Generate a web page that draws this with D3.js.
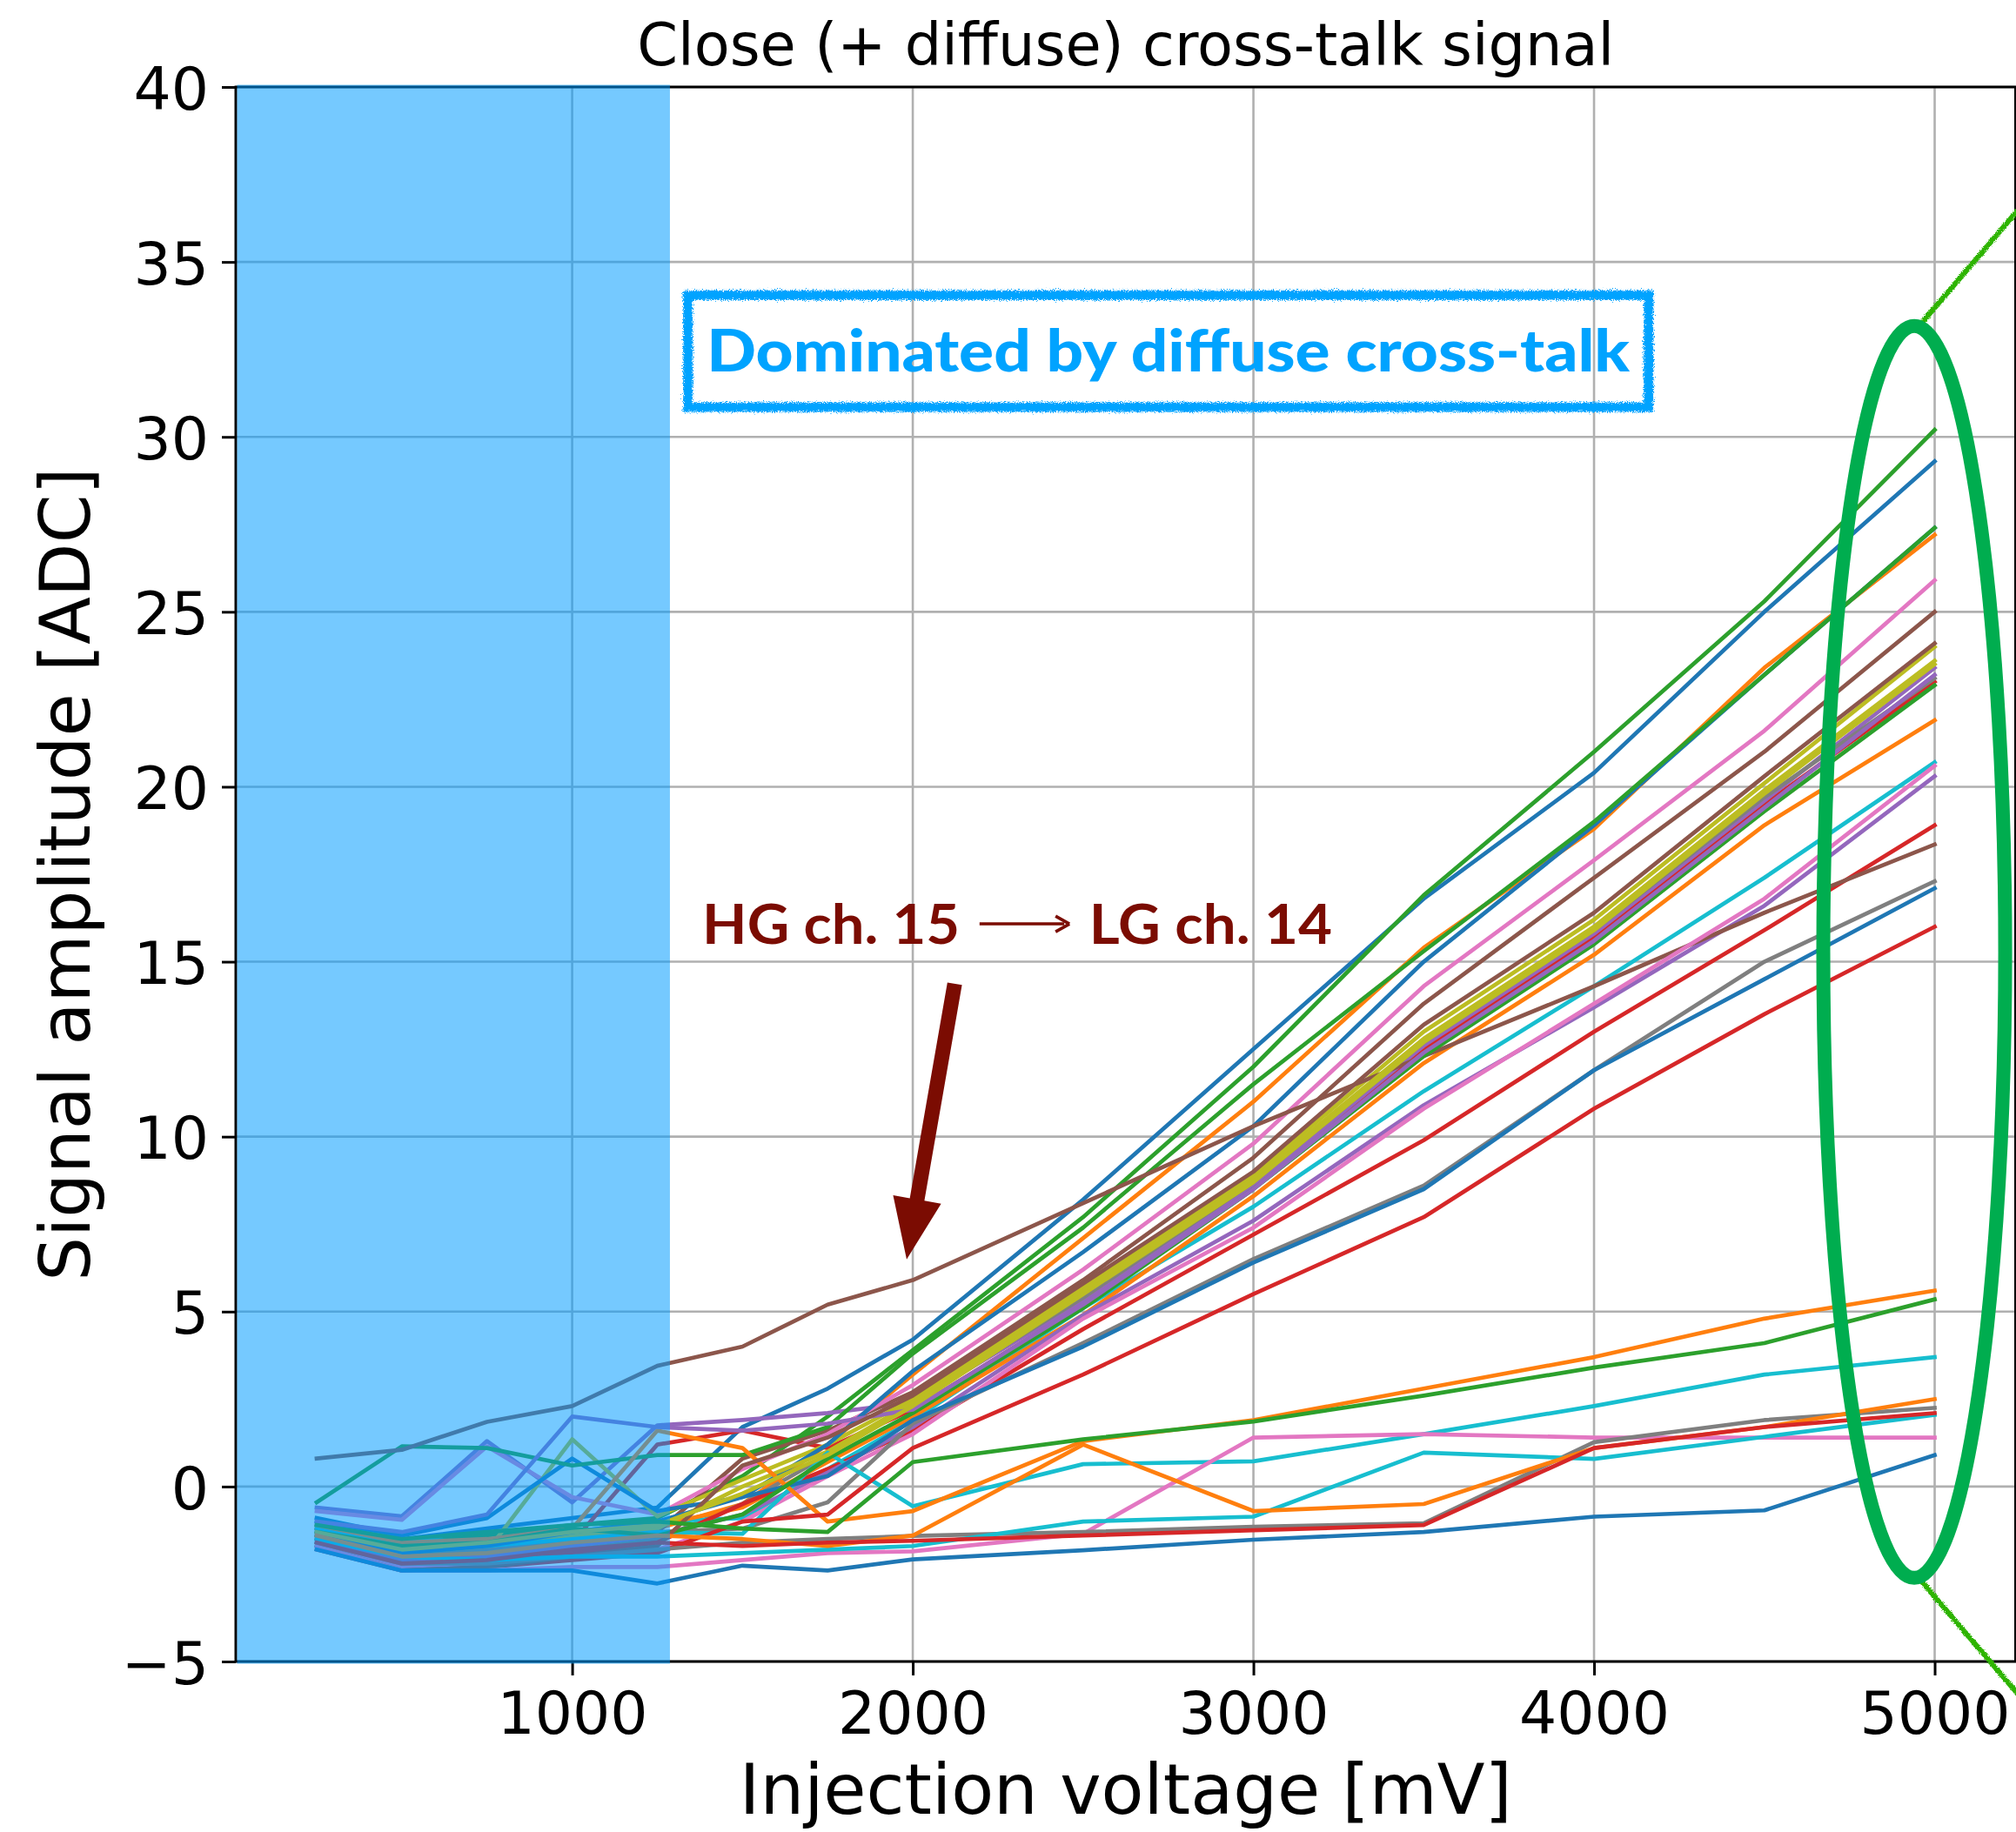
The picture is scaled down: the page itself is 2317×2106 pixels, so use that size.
<!DOCTYPE html>
<html>
<head>
<meta charset="utf-8">
<script src="https://cdn.jsdelivr.net/npm/d3@7"></script>
<style>
  html, body { margin: 0; padding: 0; background: #ffffff; }
  svg { display: block; }
</style>
</head>
<body>
<svg id="chart" width="2317" height="2106"></svg>
<script>
// Injection voltages (mV) at which every channel was measured
const voltages = [250, 500, 750, 1000, 1250, 1500, 1750, 2000, 2500, 3000, 3500, 4000, 4500, 5000];

// Cross-talk amplitude [ADC] per receiving channel, one row per channel (colour cycle order)
const channelSignals = [
  [-1.0, -1.5, -1.2, -0.9, -0.6,  1.7,  2.8,  4.2,  8.2, 12.5, 16.8, 20.4, 25.0, 29.3],
  [-1.3, -1.9, -1.7, -1.5, -1.2, -0.5,  1.2,  3.2,  7.1, 11.0, 15.4, 18.8, 23.4, 27.2],
  [-1.2, -1.6, -1.4, -1.1, -0.9,  0.3,  2.0,  3.9,  7.7, 12.0, 16.9, 21.0, 25.3, 30.2],
  [-1.5, -2.0, -1.9, -1.6,  1.2,  1.6,  1.1,  2.2,  5.2,  8.6, 12.5, 15.7, 19.5, 23.0],
  [-0.6, -0.85, 1.3, -0.45, 1.75, 1.9,  2.1,  2.4,  5.3,  8.6, 12.6, 15.8, 19.6, 23.4],
  [-1.4, -2.0, -1.9, -1.5, -1.3,  0.8,  1.6,  2.7,  5.9,  9.4, 13.8, 17.4, 21.0, 25.0],
  [-0.7, -0.95, 1.15, -0.3, -0.8, 0.5,  1.5,  2.9,  6.2,  9.8, 14.3, 17.9, 21.6, 25.9],
  [-1.6, -2.2, -2.1, -1.8, -1.5, -0.5,  0.9,  2.4,  5.4,  8.7, 12.7, 15.9, 19.7, 23.1],
  [-1.4, -1.7, -1.85, 1.35, -0.85, 0.2, 1.2,  2.5,  5.7,  8.9, 13.0, 16.2, 20.1, 24.0],
  [-1.1, -1.5, -1.6, -1.3, -1.0, -0.9,  0.5,  1.9,  5.1,  8.0, 11.3, 14.3, 17.4, 20.7],
  [-0.9, -1.4, -0.9,  0.8, -0.7, -0.3,  1.2,  3.3,  6.7, 10.3, 15.0, 18.9, 23.2, 27.4],
  [-1.2, -1.8, -1.6, -1.4, -1.1, -0.6,  0.7,  2.0,  4.9,  8.3, 12.1, 15.2, 18.9, 21.9],
  [-0.45, 1.15, 1.1,  0.6,  0.9,  0.9,  1.7,  3.8,  7.4, 11.5, 15.3, 19.0, 23.2, 27.4],
  [-1.7, -2.3, -2.2, -1.9, -1.6, -0.5,  0.5,  1.6,  4.5,  7.2,  9.9, 13.0, 15.9, 18.9],
  [-1.5, -2.1, -2.0, -1.7, -1.4, -0.8,  0.4,  1.7,  4.9,  7.6, 10.9, 13.7, 16.6, 20.3],
  [ 0.8,  1.05, 1.85, 2.3,  3.45, 4.0,  5.2,  5.9,  8.1, 10.3, 12.3, 14.3, 16.4, 18.35],
  [-1.6, -2.3, -2.2, -2.0, -1.8, -1.0,  0.3,  1.5,  4.8,  7.4, 10.8, 13.8, 16.8, 20.6],
  [-1.3, -1.9, -1.8, -1.6, -1.3, -1.2, -0.45, 1.8,  4.1,  6.5,  8.6, 11.9, 15.0, 17.3],
  [-1.5, -1.9, -1.7, -1.4, -1.2,  0.0,  1.0,  2.4,  5.6,  8.8, 12.8, 16.0, 19.9, 23.6],
  [-1.2, -1.6, -1.7, -1.5, -1.3, -1.35, 0.97, -0.56, 0.64, 0.72, 1.5, 2.3,  3.2,  3.7],
  [-1.4, -1.9, -1.7, -1.3, -1.0, -0.3,  0.3,  1.9,  4.0,  6.4,  8.5, 11.9, 14.5, 17.1],
  [-1.1, -1.6, -1.5, -1.2,  1.6,  1.1, -1.0, -0.7,  1.3,  1.9,  2.8,  3.7,  4.8,  5.6],
  [-1.3, -1.7, -1.6, -1.2, -1.4, -0.8,  0.8,  2.1,  5.1,  8.5, 12.3, 15.5, 19.3, 22.9],
  [-1.8, -2.4, -2.3, -2.1, -1.9, -1.0, -0.8,  1.1,  3.2,  5.5,  7.7, 10.8, 13.5, 16.0],
  [-1.0, -1.3, -0.8,  2.0,  1.7,  1.6,  1.8,  2.2,  5.2,  8.5, 12.4, 15.6, 19.4, 23.2],
  [-1.7, -2.4, -2.3, -2.0, -1.7,  0.6,  1.4,  2.6,  5.8,  9.0, 13.2, 16.4, 20.3, 24.1],
  [-1.7, -2.4, -2.4, -2.3, -2.3, -2.1, -1.9, -1.85, -1.35, 1.4, 1.5,  1.4,  1.4,  1.4],
  [-1.6, -2.2, -2.2, -2.0, -1.8, -1.6, -1.5, -1.41, -1.3, -1.15, -1.05, 1.27, 1.9, 2.25],
  [-1.3, -1.8, -1.6, -1.3, -1.1, -0.2,  0.9,  2.3,  5.5,  8.7, 12.7, 15.9, 19.8, 23.5],
  [-1.5, -2.0, -2.1, -2.0, -2.0, -1.9, -1.8, -1.7, -1.0, -0.86, 0.97, 0.79, 1.42, 2.05],
  [-1.8, -2.4, -2.4, -2.4, -2.77, -2.26, -2.4, -2.08, -1.82, -1.52, -1.3, -0.86, -0.68, 0.9],
  [-1.4, -2.0, -1.9, -1.6, -1.4, -1.5, -1.7, -1.4,  1.2, -0.7, -0.5,  1.1,  1.7,  2.5],
  [-1.1, -1.5, -1.3, -1.1, -1.0, -1.2, -1.3,  0.7,  1.35, 1.86, 2.6,  3.4,  4.1,  5.35],
  [-1.6, -2.2, -2.1, -1.8, -1.6, -1.7, -1.6, -1.55, -1.4, -1.25, -1.1, 1.1,  1.7,  2.1]
];

// Axis ticks
const xTickValues = [1000, 2000, 3000, 4000, 5000];
const yTickValues = [-5, 0, 5, 10, 15, 20, 25, 30, 35, 40];

// Text
const titleText = "Close (+ diffuse) cross-talk signal";
const xLabelText = "Injection voltage [mV]";
const yLabelText = "Signal amplitude [ADC]";
const diffuseLabel = "Dominated by diffuse cross-talk";
const channelLabelFrom = "HG ch. 15";
const channelLabelTo = "LG ch. 14";

// ---------------------------------------------------------------------------
const W = 2317, H = 2106;
const plot = { left: 271, right: 2316.5, top: 100, bottom: 1910 };

const x = d3.scaleLinear().domain([12.5, 5237.5]).range([plot.left, plot.right]);
const y = d3.scaleLinear().domain([-5, 40]).range([plot.bottom, plot.top]);
const colors = d3.schemeCategory10;

const svg = d3.select("#chart");
const defs = svg.append("defs");

defs.append("clipPath").attr("id", "plotClip")
  .append("rect")
  .attr("x", plot.left).attr("y", plot.top)
  .attr("width", plot.right - plot.left).attr("height", plot.bottom - plot.top);

// rough, chalk-like edges for hand-drawn annotation strokes
function roughFilter(id, scale, freq, seed) {
  const f = defs.append("filter").attr("id", id)
    .attr("x", "-10%").attr("y", "-30%").attr("width", "120%").attr("height", "160%");
  f.append("feTurbulence").attr("type", "fractalNoise").attr("baseFrequency", freq)
    .attr("numOctaves", 2).attr("seed", seed).attr("result", "noise");
  f.append("feDisplacementMap").attr("in", "SourceGraphic").attr("in2", "noise")
    .attr("scale", scale).attr("xChannelSelector", "R").attr("yChannelSelector", "G");
}
roughFilter("rough", 8, 0.8, 4);
roughFilter("roughThin", 4, 0.9, 7);

// background
svg.append("rect").attr("width", W).attr("height", H).attr("fill", "#ffffff");

// grid
const grid = svg.append("g").attr("stroke", "#b0b0b0").attr("stroke-width", 2.6);
grid.selectAll("line.gx").data(xTickValues).join("line")
  .attr("x1", d => x(d)).attr("x2", d => x(d))
  .attr("y1", plot.top).attr("y2", plot.bottom);
grid.selectAll("line.gy").data(yTickValues).join("line")
  .attr("x1", plot.left).attr("x2", plot.right)
  .attr("y1", d => y(d)).attr("y2", d => y(d));

// channel curves
const line = d3.line()
  .x((d, i) => x(voltages[i]))
  .y(d => y(d));

svg.append("g").attr("clip-path", "url(#plotClip)")
  .selectAll("path").data(channelSignals).join("path")
  .attr("d", d => line(d))
  .attr("fill", "none")
  .attr("stroke", (d, i) => colors[i % colors.length])
  .attr("stroke-width", 4.7)
  .attr("stroke-linejoin", "round")
  .attr("stroke-linecap", "square");

// axes
const tickFont = "'DejaVu Sans', 'Liberation Sans', sans-serif";
const xAxis = svg.append("g").attr("transform", `translate(0,${plot.bottom})`)
  .call(d3.axisBottom(x).tickValues(xTickValues).tickSize(16).tickPadding(19).tickFormat(d3.format("d")));
const yAxis = svg.append("g").attr("transform", `translate(${plot.left},0)`)
  .call(d3.axisLeft(y).tickValues(yTickValues).tickSize(16).tickPadding(15).tickFormat(d => d < 0 ? "\u2212" + Math.abs(d) : d));
[xAxis, yAxis].forEach(a => {
  a.select(".domain").remove();
  a.selectAll(".tick line").attr("stroke", "#000").attr("stroke-width", 3);
  a.selectAll(".tick text").attr("fill", "#000")
    .style("font-family", tickFont).style("font-size", "68px");
});
yAxis.selectAll(".tick text").attr("dy", "0.37em");

// spines
svg.append("rect")
  .attr("x", plot.left).attr("y", plot.top)
  .attr("width", plot.right - plot.left).attr("height", plot.bottom - plot.top)
  .attr("fill", "none").attr("stroke", "#000").attr("stroke-width", 3);

// low-voltage region shading
const lowRegion = [12.5, 1287];
svg.append("rect")
  .attr("x", x(lowRegion[0]) + 1.5).attr("y", plot.top - 2.5)
  .attr("width", x(lowRegion[1]) - x(lowRegion[0]) - 1.5)
  .attr("height", plot.bottom - plot.top + 5)
  .attr("fill", "rgb(0,155,255)").attr("fill-opacity", 0.54);

// title and axis labels
svg.append("text").attr("x", (plot.left + plot.right) / 2).attr("y", 75)
  .attr("text-anchor", "middle").style("font-family", tickFont).style("font-size", "67px")
  .attr("fill", "#000").text(titleText);
svg.append("text").attr("x", (plot.left + plot.right) / 2).attr("y", 2085)
  .attr("text-anchor", "middle").style("font-family", tickFont).style("font-size", "80px")
  .attr("fill", "#000").text(xLabelText);
svg.append("text")
  .attr("transform", `translate(103,${(plot.top + plot.bottom) / 2}) rotate(-90)`)
  .attr("text-anchor", "middle").style("font-family", tickFont).style("font-size", "80px")
  .attr("fill", "#000").text(yLabelText);

// --- annotations ----------------------------------------------------------
const blueNote = "#00a3ff";

// framed note about the diffuse cross-talk regime
const boxMv = [1340, 4160], boxAdc = [30.85, 34.05];
svg.append("rect")
  .attr("x", x(boxMv[0])).attr("y", y(boxAdc[1]))
  .attr("width", x(boxMv[1]) - x(boxMv[0]))
  .attr("height", y(boxAdc[0]) - y(boxAdc[1]))
  .attr("fill", "none").attr("stroke", blueNote).attr("stroke-width", 11)
  .attr("filter", "url(#rough)");
svg.append("text")
  .attr("x", x(1395)).attr("y", y(31.87))
  .attr("textLength", x(4105) - x(1395)).attr("lengthAdjust", "spacingAndGlyphs")
  .style("font-family", "Lato, 'Open Sans', sans-serif").style("font-weight", 900)
  .style("font-size", "66px").attr("fill", blueNote).text(diffuseLabel);

// channel pair label with long arrow
const darkRed = "#7b0c02";
const labelBase = y(15.51);
svg.append("text")
  .attr("x", x(1382)).attr("y", labelBase)
  .attr("textLength", x(2138) - x(1382)).attr("lengthAdjust", "spacingAndGlyphs")
  .style("font-family", "Lato, 'Open Sans', sans-serif").style("font-weight", 700)
  .style("font-size", "63px").attr("fill", darkRed).text(channelLabelFrom);
svg.append("text")
  .attr("x", x(2518)).attr("y", labelBase)
  .attr("textLength", x(3231) - x(2518)).attr("lengthAdjust", "spacingAndGlyphs")
  .style("font-family", "Lato, 'Open Sans', sans-serif").style("font-weight", 700)
  .style("font-size", "63px").attr("fill", darkRed).text(channelLabelTo);
// thin long arrow between the two channel names
{
  const ax0 = x(2196), ax1 = x(2460), ay = y(16.08);
  svg.append("line").attr("x1", ax0).attr("x2", ax1 - 6).attr("y1", ay).attr("y2", ay)
    .attr("stroke", darkRed).attr("stroke-width", 3.5);
  svg.append("path")
    .attr("d", `M${ax1},${ay} L${ax1 - 16},${ay - 9} M${ax1},${ay} L${ax1 - 16},${ay + 9}`)
    .attr("stroke", darkRed).attr("stroke-width", 3.5).attr("fill", "none");
}

// thick pointer arrow onto the HG ch. 15 -> LG ch. 14 curve
{
  const tail = [x(2123), y(14.37)], tip = [x(1982), y(6.49)];
  const dx = tip[0] - tail[0], dy = tip[1] - tail[1];
  const len = Math.hypot(dx, dy), ux = dx / len, uy = dy / len, px = -uy, py = ux;
  const shaftHalf = 8.5, headHalf = 28, headLen = 70;
  const bx = tip[0] - ux * headLen, by = tip[1] - uy * headLen;
  const pts = [
    [tail[0] + px * shaftHalf, tail[1] + py * shaftHalf],
    [bx + px * shaftHalf, by + py * shaftHalf],
    [bx + px * headHalf, by + py * headHalf],
    tip,
    [bx - px * headHalf, by - py * headHalf],
    [bx - px * shaftHalf, by - py * shaftHalf],
    [tail[0] - px * shaftHalf, tail[1] - py * shaftHalf]
  ];
  svg.append("path").attr("d", "M" + pts.map(p => p.join(",")).join("L") + "Z")
    .attr("fill", darkRed);
}

// green ring around the 5000 mV end points, with leader strokes off to the right
const ringGreen = "#00ad4f", leaderGreen = "#2db400";
svg.append("line")
  .attr("x1", x(4948)).attr("y1", y(33.1)).attr("x2", x(5290)).attr("y2", y(37.0))
  .attr("stroke", leaderGreen).attr("stroke-width", 6).attr("filter", "url(#roughThin)");
svg.append("line")
  .attr("x1", x(4952)).attr("y1", y(-2.6)).attr("x2", x(5290)).attr("y2", y(-6.45))
  .attr("stroke", leaderGreen).attr("stroke-width", 6).attr("filter", "url(#roughThin)");
svg.append("ellipse")
  .attr("cx", x(4940)).attr("cy", y(15.28))
  .attr("rx", x(4940 + 267) - x(4940)).attr("ry", y(15.28 - 17.89) - y(15.28))
  .attr("fill", "none").attr("stroke", ringGreen).attr("stroke-width", 16);
</script>
</body>
</html>
